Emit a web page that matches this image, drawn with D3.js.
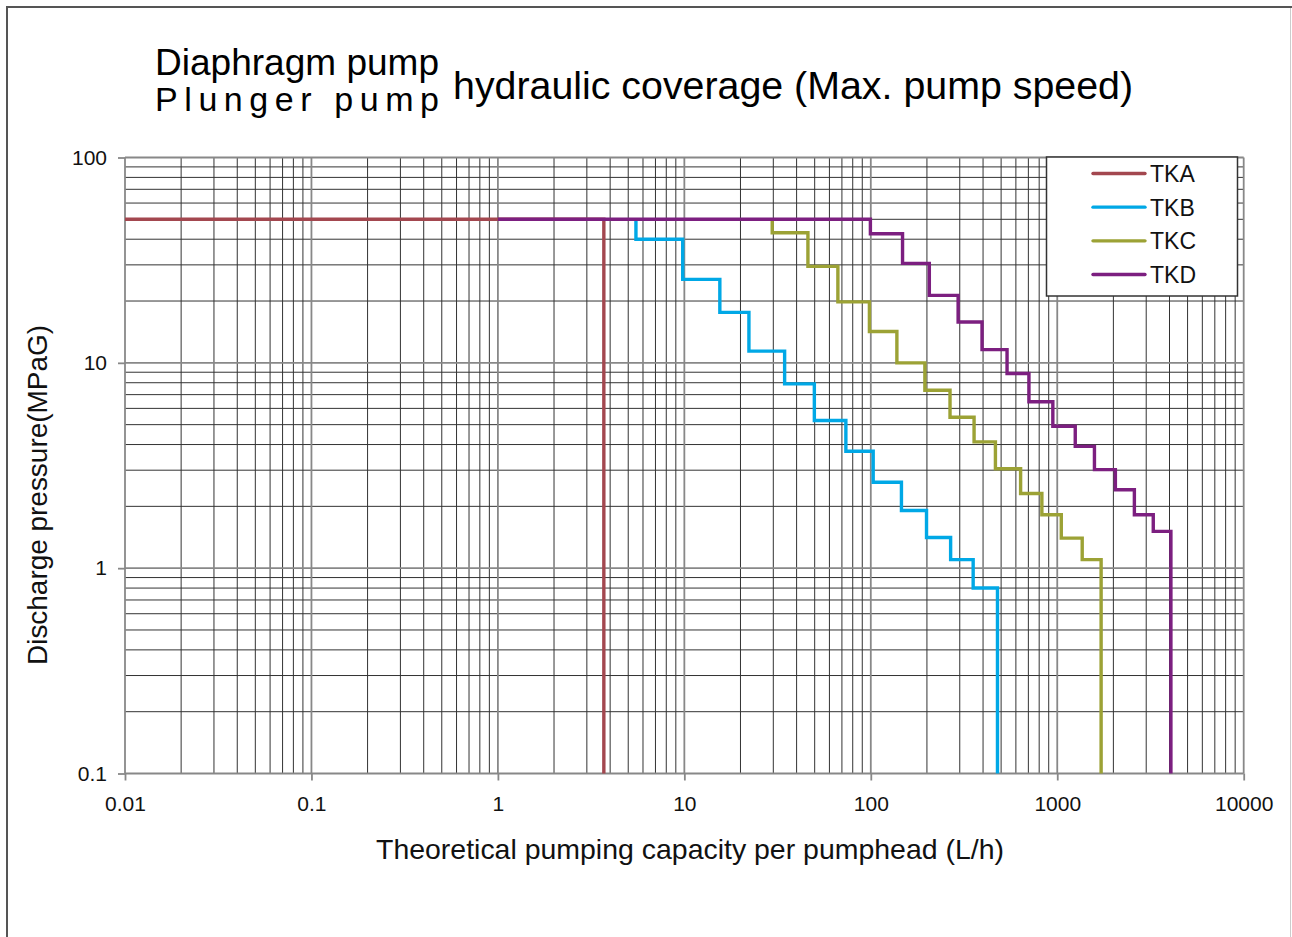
<!DOCTYPE html>
<html>
<head>
<meta charset="utf-8">
<script src="https://cdn.jsdelivr.net/npm/d3@7"></script>
<style>
  html, body { margin: 0; padding: 0; background: #fff; }
  svg { display: block; font-family: "Liberation Sans", Arial, sans-serif; }
</style>
</head>
<body>
<svg id="chart" width="1292" height="937"></svg>
<script>
// ---- data ----
const seriesNames = ["TKA", "TKB", "TKC", "TKD"];
const seriesColors = ["#a3474f", "#00a8e6", "#9ca235", "#7c1f80"];

const tkaCapacity = [0.01, 3.7];
const tkaPressure = [50, 0.1];

const tkbCapacity = [5.5, 5.5, 9.8, 15.5, 22.2, 34.5, 49.8, 73.5, 103, 146, 199, 268, 354, 478];
const tkbPressure = [50, 40, 25.5, 17.6, 11.4, 7.9, 5.24, 3.71, 2.62, 1.91, 1.41, 1.10, 0.80, 0.1];

const tkcCapacity = [29.6, 29.6, 46, 66.6, 98.3, 138, 195, 266, 358, 466, 636, 827, 1051, 1361, 1719];
const tkcPressure = [50, 43, 29.5, 19.8, 14.2, 10, 7.35, 5.43, 4.12, 3.05, 2.31, 1.82, 1.40, 1.10, 0.1];

const tkdCapacity = [1, 99.5, 148, 206, 294, 395, 538, 705, 947, 1249, 1583, 2050, 2592, 3273, 4070];
const tkdPressure = [50, 42.5, 30.5, 21.3, 15.8, 11.6, 8.87, 6.46, 4.91, 3.92, 3.02, 2.41, 1.82, 1.51, 0.1];

const xTickValues = [0.01, 0.1, 1, 10, 100, 1000, 10000];
const xTickLabels = ["0.01", "0.1", "1", "10", "100", "1000", "10000"];
const yTickValues = [0.1, 1, 10, 100];
const yTickLabels = ["0.1", "1", "10", "100"];
const minorMultipliers = [2, 3, 4, 5, 6, 7, 8, 9];

const titleLine1 = "Diaphragm pump";
const titleLine2 = "Plunger pump";
const titleMain = "hydraulic coverage (Max. pump speed)";
const xAxisTitle = "Theoretical pumping capacity per pumphead (L/h)";
const yAxisTitle = "Discharge pressure(MPaG)";

// ---- layout ----
const svg = d3.select("#chart");
const x = d3.scaleLog().domain([0.01, 10000]).range([125, 1243.7]);
const y = d3.scaleLog().domain([0.1, 100]).range([773.5, 157.5]);

// outer frame
svg.append("path").attr("d", "M7,945 V7 H1292").attr("fill", "none")
  .attr("stroke", "#555").attr("stroke-width", 2);
svg.append("line").attr("x1", 1290.5).attr("x2", 1290.5).attr("y1", 8).attr("y2", 937)
  .attr("stroke", "#ccc").attr("stroke-width", 1);

// minor values
function minorVals(domain) {
  const out = [];
  const lo = Math.round(Math.log10(domain[0])), hi = Math.round(Math.log10(domain[1]));
  for (let e = lo; e < hi; e++) minorMultipliers.forEach(m => out.push(m * Math.pow(10, e)));
  return out;
}
const xMinor = minorVals(x.domain());
const yMinor = minorVals(y.domain());

const grid = svg.append("g");
grid.selectAll(".vminor").data(xMinor).join("line")
  .attr("x1", d => x(d)).attr("x2", d => x(d))
  .attr("y1", y(100)).attr("y2", y(0.1))
  .attr("stroke", "#333").attr("stroke-width", 1);
grid.selectAll(".hminor").data(yMinor).join("line")
  .attr("x1", x(0.01)).attr("x2", x(10000))
  .attr("y1", d => y(d)).attr("y2", d => y(d))
  .attr("stroke", "#333").attr("stroke-width", 1);
grid.selectAll(".vmajor").data(xTickValues).join("line")
  .attr("x1", d => x(d)).attr("x2", d => x(d))
  .attr("y1", y(100)).attr("y2", y(0.1))
  .attr("stroke", "#888").attr("stroke-width", 1.8);
grid.selectAll(".hmajor").data(yTickValues).join("line")
  .attr("x1", x(0.01)).attr("x2", x(10000))
  .attr("y1", d => y(d)).attr("y2", d => y(d))
  .attr("stroke", "#888").attr("stroke-width", 1.8);

// axes
const xAxis = d3.axisBottom(x).tickValues(xTickValues)
  .tickFormat((d, i) => xTickLabels[i]).tickSize(7).tickPadding(16);
const gx = svg.append("g").attr("transform", `translate(0,${y(0.1)})`).call(xAxis);
gx.select(".domain").remove();
gx.selectAll(".tick line").attr("stroke", "#888").attr("stroke-width", 1.8);
gx.selectAll(".tick text").attr("font-size", 21).attr("fill", "#111")
  .attr("font-family", "Liberation Sans, Arial, sans-serif");

const yAxis = d3.axisLeft(y).tickValues(yTickValues)
  .tickFormat((d, i) => yTickLabels[i]).tickSize(7).tickPadding(11);
const gy = svg.append("g").attr("transform", `translate(${x(0.01)},0)`).call(yAxis);
gy.select(".domain").remove();
gy.selectAll(".tick line").attr("stroke", "#888").attr("stroke-width", 1.8);
gy.selectAll(".tick text").attr("font-size", 21).attr("fill", "#111")
  .attr("font-family", "Liberation Sans, Arial, sans-serif");

// series
const line = d3.line().x(d => x(d[0])).y(d => y(d[1])).curve(d3.curveStepAfter);
const seriesData = [
  d3.zip(tkaCapacity, tkaPressure),
  d3.zip(tkbCapacity, tkbPressure),
  d3.zip(tkcCapacity, tkcPressure),
  d3.zip(tkdCapacity, tkdPressure)
];
svg.append("g").selectAll("path").data(seriesData).join("path")
  .attr("d", line).attr("fill", "none")
  .attr("stroke", (d, i) => seriesColors[i]).attr("stroke-width", 3.4)
  .attr("stroke-linejoin", "miter");

// legend
const lg = svg.append("g");
lg.append("rect").attr("x", 1046.5).attr("y", 157).attr("width", 191).attr("height", 139)
  .attr("fill", "#fff").attr("stroke", "#333").attr("stroke-width", 1.5);
const legendY = d3.scalePoint().domain(seriesNames).range([173.5, 274.5]);
seriesNames.forEach((name, i) => {
  lg.append("line").attr("x1", 1093).attr("x2", 1145)
    .attr("y1", legendY(name)).attr("y2", legendY(name))
    .attr("stroke", seriesColors[i]).attr("stroke-width", 3.4).attr("stroke-linecap", "round");
  lg.append("text").attr("x", 1150).attr("y", legendY(name) + 8.5)
    .attr("font-size", 23).attr("fill", "#111").text(name);
});

// titles
svg.append("text").attr("x", 155).attr("y", 75).attr("font-size", 36)
  .attr("textLength", 284).attr("lengthAdjust", "spacingAndGlyphs")
  .attr("fill", "#000").text(titleLine1);
svg.append("text").attr("x", 155).attr("y", 111).attr("font-size", 34)
  .attr("textLength", 284).attr("lengthAdjust", "spacing")
  .attr("fill", "#000").text(titleLine2);
svg.append("text").attr("x", 453).attr("y", 99).attr("font-size", 38)
  .attr("textLength", 680).attr("lengthAdjust", "spacingAndGlyphs")
  .attr("fill", "#000").text(titleMain);

// axis titles
svg.append("text").attr("x", 376).attr("y", 859).attr("font-size", 28)
  .attr("textLength", 628).attr("lengthAdjust", "spacingAndGlyphs")
  .attr("fill", "#111").text(xAxisTitle);
svg.append("text").attr("transform", "translate(47,665) rotate(-90)")
  .attr("font-size", 27).attr("textLength", 340).attr("lengthAdjust", "spacingAndGlyphs")
  .attr("fill", "#111").text(yAxisTitle);
</script>
</body>
</html>
